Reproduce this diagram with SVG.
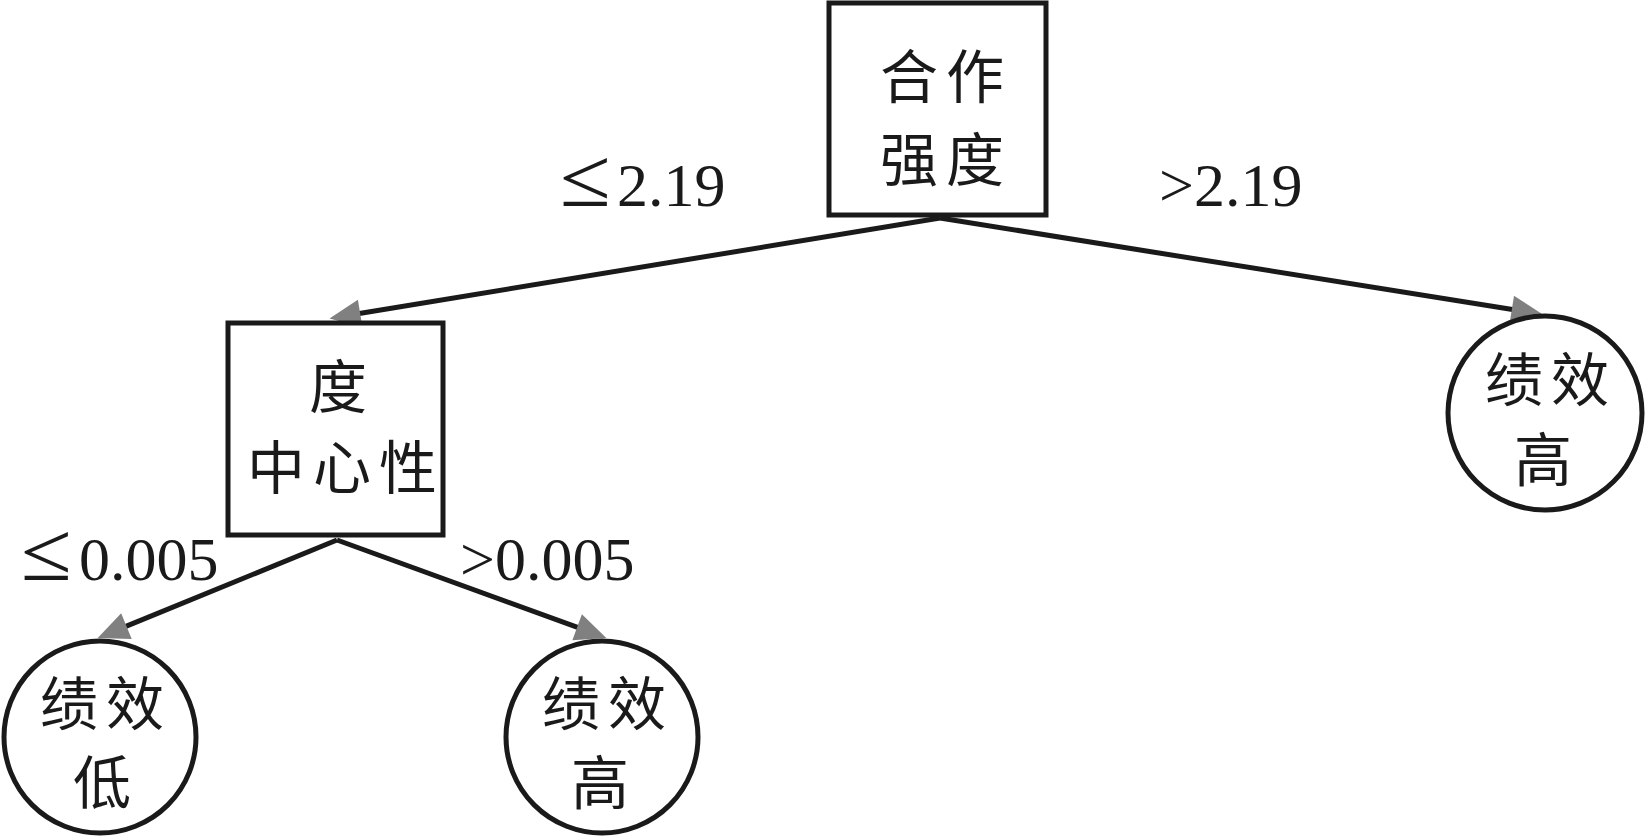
<svg xmlns="http://www.w3.org/2000/svg" width="1645" height="836" viewBox="0 0 1645 836">
<defs>
<style>
.box{fill:#fff;stroke:#1a1a1a;stroke-width:5}
.leaf{fill:#fff;stroke:#1a1a1a;stroke-width:5}
.cjk{font-family:"Noto Sans CJK SC","Noto Sans CJK JP",sans-serif;font-size:58px;fill:#1a1a1a;text-anchor:middle;letter-spacing:8px}
.lbl{font-family:"Liberation Serif","Times New Roman",serif;font-size:62px;fill:#1a1a1a}
.edge{stroke:#1a1a1a;stroke-width:5;fill:none}
</style>
<marker id="arr" markerUnits="userSpaceOnUse" markerWidth="34" markerHeight="30" viewBox="0 -14 30 28" refX="8" refY="0" orient="auto">
<path d="M0,-13 L29,0 L0,13 z" fill="#808080"/>
</marker>
</defs>
<rect width="1645" height="836" fill="#fff"/>
<g id="connectors">
<line class="edge" x1="940" y1="218" x2="351.7" y2="314.8" marker-end="url(#arr)"/>
<line class="edge" x1="940" y1="218" x2="1520.3" y2="310.8" marker-end="url(#arr)"/>
<line class="edge" x1="337" y1="540" x2="118.5" y2="629.4" marker-end="url(#arr)"/>
<line class="edge" x1="337" y1="540" x2="585.2" y2="630.2" marker-end="url(#arr)"/>
<text class="lbl" transform="translate(560,206) scale(1.5,1.35)">≤</text>
<text class="lbl" x="617" y="206">2.19</text>
<text class="lbl" x="1159" y="206">&gt;2.19</text>
<text class="lbl" transform="translate(21,580) scale(1.5,1.35)">≤</text>
<text class="lbl" x="79" y="580">0.005</text>
<text class="lbl" x="460" y="580">&gt;0.005</text>
</g>
<g id="node-hezuo">
<rect class="box" x="829" y="3" width="217" height="212"/>
<text class="cjk" x="946" y="98">合作</text>
<text class="cjk" x="946" y="181">强度</text>
</g>
<g id="node-duzhongxin">
<rect class="box" x="228" y="323" width="215" height="212"/>
<text class="cjk" x="342" y="408">度</text>
<text class="cjk" x="346" y="489">中心性</text>
</g>
<g id="leaf-right">
<circle class="leaf" cx="1545" cy="413" r="97"/>
<text class="cjk" x="1551" y="401">绩效</text>
<text class="cjk" x="1547" y="481">高</text>
</g>
<g id="leaf-low">
<circle class="leaf" cx="100" cy="737" r="96"/>
<text class="cjk" x="106" y="725">绩效</text>
<text class="cjk" x="106" y="804">低</text>
</g>
<g id="leaf-high">
<circle class="leaf" cx="602" cy="737" r="96"/>
<text class="cjk" x="608" y="725">绩效</text>
<text class="cjk" x="604" y="804">高</text>
</g>
</svg>
